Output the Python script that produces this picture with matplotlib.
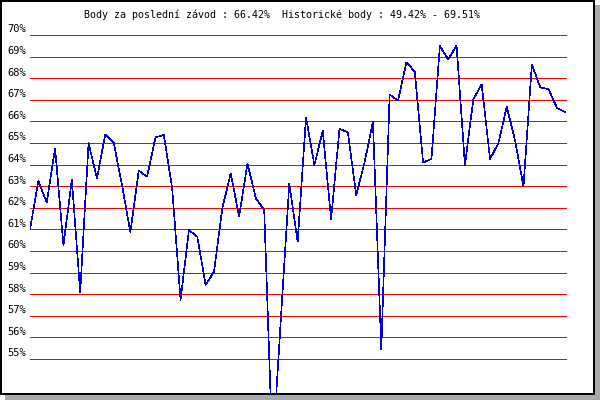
import matplotlib
matplotlib.use("Agg")
import matplotlib.pyplot as plt
from matplotlib.patches import Rectangle
from matplotlib.transforms import offset_copy, blended_transform_factory

# ---- data ----
values = [61.0, 63.24, 62.25, 64.75, 60.25, 63.32, 58.09, 65.0, 63.36, 65.4,
          65.03, 63.05, 60.87, 63.72, 63.44, 65.26, 65.37, 62.9, 57.73, 60.97,
          60.66, 58.43, 59.04, 62.0, 63.6, 61.59, 64.06, 62.44, 61.9, 50.6,
          56.9, 63.13, 60.43, 66.19, 63.98, 65.56, 61.47, 65.66, 65.49, 62.59,
          64.1, 65.99, 55.45, 67.25, 66.96, 68.74, 68.3, 64.09, 64.27, 69.49,
          68.87, 69.51, 63.98, 67.02, 67.72, 64.26, 64.99, 66.68, 65.1, 62.98,
          68.64, 67.58, 67.49, 66.63, 66.42]
tick_values = list(range(70, 54, -1))
tick_labels = [f"{v}%" for v in tick_values]
title = "Body za poslední závod : 66.42%  Historické body : 49.42% - 69.51%"

W, H = 600, 400
fig = plt.figure(figsize=(6, 4), dpi=100)
fig.patch.set_facecolor("white")

# frame with drop shadow
fig.patches.append(Rectangle((5 / W, 0), 1 - 5 / W, (H - 5) / H,
                             transform=fig.transFigure, facecolor="#aaaaaa",
                             edgecolor="none", zorder=0))
fig.patches.append(Rectangle((1 / W, 6 / H), 593 / W, 393 / H,
                             transform=fig.transFigure, facecolor="white",
                             edgecolor="black", linewidth=2 * 72 / 100, zorder=1,
                             antialiased=False))

left_px, right_px = 29.5, 567
top_px, bot_px = 25, 393
ax = fig.add_axes([left_px / W, (H - bot_px) / H,
                   (right_px - left_px) / W, (bot_px - top_px) / H])
ax.set_zorder(5)
ax.patch.set_visible(False)
for s in ax.spines.values():
    s.set_visible(False)
ax.set_xticks([])
ax.set_yticks([])

step = 8.38
ax.set_xlim(-0.06, 64 + 1.7 / step)
ppu = 21.6
ax.set_ylim(70 - (bot_px - 35) / ppu, 70 + (35 - top_px) / ppu)

for v in tick_values:
    ax.axhline(v, color="#ff0000", lw=0.6, antialiased=False, zorder=2)

ax.plot(range(len(values)), values, color="#0000cc", lw=0.45, zorder=3,
        antialiased=False, solid_joinstyle="miter")

mono = "DejaVu Sans Mono"
trans = blended_transform_factory(ax.transAxes, ax.transData)
trans = offset_copy(trans, fig=fig, x=-3.5, y=2.5, units="dots")
for v, lab in zip(tick_values, tick_labels):
    ax.text(0, v, lab, transform=trans, ha="right", va="baseline",
            family=mono, fontsize=7.5, color="black")

fig.text(282 / W, 1 - 15 / H, title, ha="center", va="center",
         family=mono, fontsize=7.2, color="black", zorder=6)

fig.savefig("out.png", dpi=100)
